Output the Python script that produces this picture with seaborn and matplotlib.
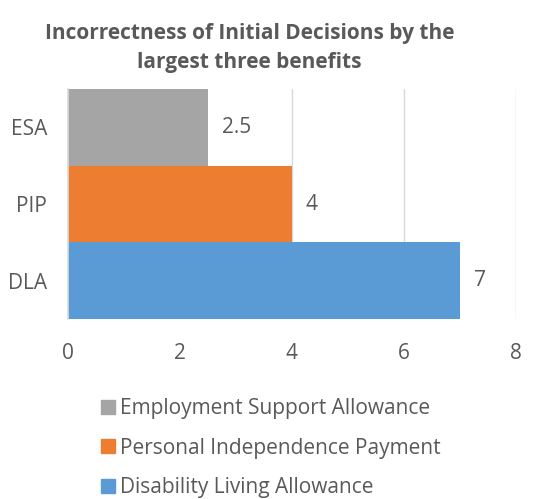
import matplotlib
matplotlib.use("Agg")
import matplotlib.pyplot as plt
from matplotlib.lines import Line2D
import seaborn as sns
import pandas as pd

# Benefit codes (top to bottom), full names and incorrectness values
codes = ["ESA", "PIP", "DLA"]
names = ["Employment Support Allowance", "Personal Independence Payment",
         "Disability Living Allowance"]
values = [2.5, 4, 7]
colors = ["#A5A5A5", "#ED7D31", "#5B9BD5"]
xticks = [0, 2, 4, 6, 8]

sns.set_theme(style="white")
plt.rcParams["font.family"] = ["Open Sans", "DejaVu Sans"]
text_color = "#595959"
fs = 15

df = pd.DataFrame({"code": codes, "value": values})

fig = plt.figure(figsize=(5.46, 4.99), dpi=100)
ax = fig.add_axes([0.1245, 0.3607, 0.8205, 0.4609])

sns.barplot(data=df, x="value", y="code", hue="code", order=codes,
            hue_order=codes, palette=colors, width=1.0, orient="h",
            legend=False, ax=ax, saturation=1, linewidth=0)

ax.set_xlim(0, 8)
ax.set_xticks(xticks)
ax.set_xticklabels([str(t) for t in xticks])
ax.set_xlabel("")
ax.set_ylabel("")
ax.xaxis.grid(True, color="#D9D9D9", linewidth=1)
ax.set_axisbelow(True)
for side in ["top", "right", "bottom"]:
    ax.spines[side].set_visible(False)
ax.spines["left"].set_color("#D9D9D9")
ax.tick_params(axis="both", length=0, labelsize=fs, colors=text_color)
ax.tick_params(axis="x", pad=17)
ax.tick_params(axis="y", pad=15)

for container in ax.containers:
    ax.bar_label(container, labels=[f"{v:g}" for v in container.datavalues],
                 padding=10, fontsize=fs, color=text_color)

fig.text(0.457, 0.904, "Incorrectness of Initial Decisions by the\nlargest three benefits",
         ha="center", va="center", fontsize=15, fontweight="bold",
         color=text_color, linespacing=1.55)

handles = [Line2D([0], [0], marker="s", linestyle="", markersize=9.5,
                  markerfacecolor=c, markeredgecolor=c) for c in colors]
fig.legend(handles, names, loc="center", bbox_to_anchor=(0.493, 0.102),
           ncol=1, frameon=False, fontsize=fs, labelcolor=text_color,
           handletextpad=0.1, labelspacing=0.9, handlelength=1.0)

fig.savefig("out.png", dpi=100)
